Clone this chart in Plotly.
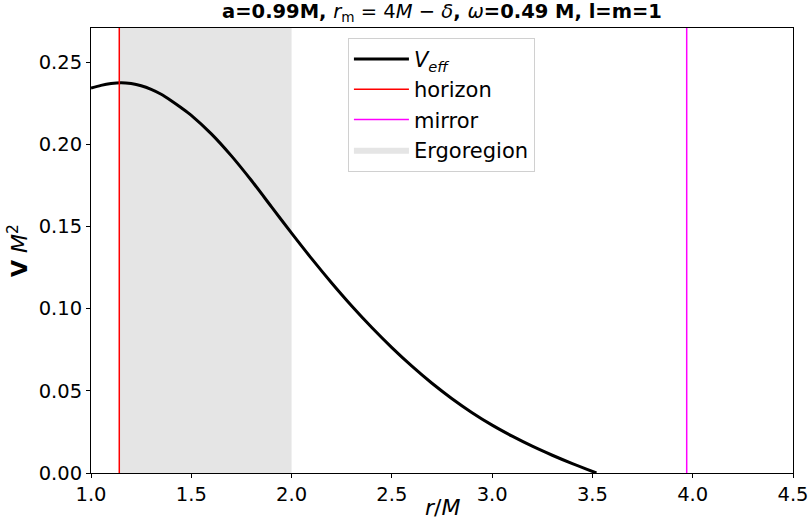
import plotly.graph_objects as go

# Effective potential samples
r_vals = [1.00, 1.05, 1.10, 1.15, 1.20, 1.25, 1.30, 1.35, 1.40, 1.45, 1.50,
          1.60, 1.70, 1.80, 1.90, 2.00, 2.10, 2.20, 2.30, 2.40, 2.50, 2.60,
          2.70, 2.80, 2.90, 3.00, 3.10, 3.20, 3.30, 3.40, 3.52]
v_vals = [0.2342, 0.2358, 0.2369, 0.2374, 0.2369, 0.2356, 0.2334, 0.2304, 0.2265,
          0.2222, 0.2176, 0.2063, 0.1929, 0.1779, 0.1619, 0.1459, 0.1304, 0.1156,
          0.1016, 0.0885, 0.0763, 0.0650, 0.0546, 0.0452, 0.0367, 0.0291, 0.0224,
          0.0163, 0.0108, 0.0057, 0.0000]

r_horizon = 1.141
r_mirror = 3.97
r_ergo_outer = 2.0
x_range = [1.0, 4.5]
y_range = [0.0, 0.2707]
x_ticks = [1.0, 1.5, 2.0, 2.5, 3.0, 3.5, 4.0, 4.5]
y_ticks = [0.00, 0.05, 0.10, 0.15, 0.20, 0.25]

FONT = "DejaVu Sans"

fig = go.Figure()

fig.add_trace(go.Scatter(
    x=[r_horizon, r_ergo_outer, r_ergo_outer, r_horizon, r_horizon],
    y=[y_range[0], y_range[0], y_range[1], y_range[1], y_range[0]],
    fill="toself", fillcolor="rgb(229,229,229)", line=dict(width=0),
    mode="lines", name="Ergoregion", hoverinfo="skip", legendrank=4))

fig.add_trace(go.Scatter(
    x=r_vals, y=v_vals, mode="lines",
    line=dict(color="black", width=3, shape="spline", smoothing=0.8),
    name="<i>V<sub>eff</sub></i>", legendrank=1))

fig.add_trace(go.Scatter(
    x=[r_horizon, r_horizon], y=y_range, mode="lines",
    line=dict(color="red", width=1.5), name="horizon", legendrank=2))

fig.add_trace(go.Scatter(
    x=[r_mirror, r_mirror], y=y_range, mode="lines",
    line=dict(color="magenta", width=1.5), name="mirror", legendrank=3))

fig.update_layout(
    width=810, height=520,
    margin=dict(l=91, r=17, t=28, b=47, autoexpand=False),
    paper_bgcolor="white", plot_bgcolor="white",
    font=dict(family=FONT, size=20, color="black"),
    title=dict(
        text="<b>a=0.99M, </b><i>r</i><sub>m</sub> = 4<i>M</i> − <i>δ</i><b>, </b><i>ω</i><b>=0.49 M, l=m=1</b>",
        x=442 / 810, xanchor="center", y=0.992, yanchor="top",
        font=dict(family=FONT, size=19.5, color="black")),
    showlegend=True,
    legend=dict(
        x=0.366, xanchor="left", y=0.978, yanchor="top",
        bgcolor="rgba(255,255,255,0.85)", bordercolor="#d0d0d0", borderwidth=1,
        font=dict(family=FONT, size=21, color="black"), traceorder="normal",
        itemwidth=55),
    annotations=[dict(
        text="<i>r</i>/<i>M</i>", xref="paper", yref="paper",
        x=0.5, xanchor="center", y=-(507 - 473) / 445, yanchor="middle",
        showarrow=False, font=dict(family=FONT, size=22, color="black"))],
)

fig.update_xaxes(
    range=x_range, tickvals=x_ticks, ticktext=[f"{t:.1f}" for t in x_ticks],
    showgrid=False, zeroline=False, showline=True, linecolor="black", linewidth=1,
    mirror=True, ticks="outside", ticklen=4, tickcolor="black", automargin=False,
    tickfont=dict(family=FONT, size=19.5))

fig.update_yaxes(
    range=y_range, tickvals=y_ticks, ticktext=[f"{t:.2f}" for t in y_ticks],
    showgrid=False, zeroline=False, showline=True, linecolor="black", linewidth=1,
    mirror=True, ticks="outside", ticklen=4, tickcolor="black", automargin=False,
    tickfont=dict(family=FONT, size=19.5),
    title=dict(text="<b>V</b> <i>M</i><sup>2</sup>", font=dict(family=FONT, size=22), standoff=4))

fig.write_html("out.html")
